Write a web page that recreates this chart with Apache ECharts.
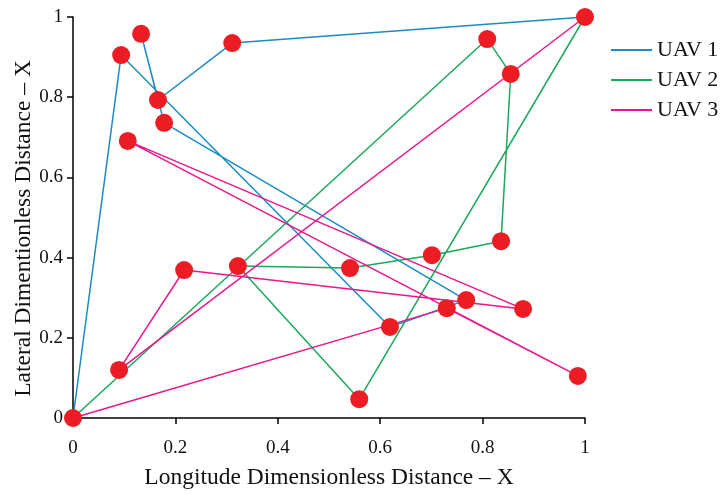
<!DOCTYPE html>
<html>
<head>
<meta charset="utf-8">
<script src="https://cdn.jsdelivr.net/npm/echarts@6/dist/echarts.min.js"></script>
<style>
  html, body { margin: 0; padding: 0; background: #fff; }
  #chart { width: 724px; height: 497px; }
</style>
</head>
<body>
<div id="chart"></div>
<script>
// routes, [x, y] in dimensionless units
const uav1Route = [[0, 0], [0.094, 0.905], [0.619, 0.227], [0.768, 0.294], [0.178, 0.736],
  [0.133, 0.958], [0.166, 0.793], [0.311, 0.935], [1, 1]]
const uav2Route = [[0, 0], [0.809, 0.945], [0.855, 0.858], [0.836, 0.441], [0.701, 0.406],
  [0.541, 0.374], [0.322, 0.379], [0.559, 0.047], [1, 1]]
const uav3Route = [[0, 0], [0.730, 0.274], [0.986, 0.105], [0.107, 0.691], [0.879, 0.272],
  [0.217, 0.369], [0.090, 0.120], [1, 1]]
const seriesNames = ['UAV 1', 'UAV 2', 'UAV 3']
const axisTicks = [0, 0.2, 0.4, 0.6, 0.8, 1]

const colors = ['#1b8cc2', '#1aa95c', '#ea168b']
const font = '"Liberation Serif", "DejaVu Serif", serif'

// all the nodes, once each
let nodes = []
const seen = {}
;[uav1Route, uav2Route, uav3Route].forEach(r => {
  r.forEach(p => {
    const k = p.join(',')
    if (!seen[k]) { seen[k] = true; nodes.push(p) }
  })
})

const routeSeries = [uav1Route, uav2Route, uav3Route].map((r, i) => ({
  name: seriesNames[i],
  type: 'line',
  data: r,
  symbol: 'none',
  lineStyle: { color: colors[i], width: 1.5 },
  itemStyle: { color: colors[i] },
  z: 2
}))

const axisCommon = {
  type: 'value',
  min: axisTicks[0],
  max: axisTicks[axisTicks.length - 1],
  interval: 0.2,
  splitLine: { show: false },
  axisLine: { show: true, onZero: false, lineStyle: { color: '#000', width: 1.5 } },
  axisTick: { show: true, inside: false, length: 6, lineStyle: { color: '#000', width: 1.5 } },
  axisLabel: { color: '#111', fontFamily: font, fontSize: 19 },
  nameLocation: 'middle',
  nameMoveOverlap: false,
  nameTextStyle: { color: '#111', fontFamily: font, fontSize: 23.5 }
}

let chart = echarts.init(document.getElementById('chart'))
chart.setOption({
  animation: false,
  grid: { left: 73, right: 139, top: 17, bottom: 79, containLabel: false, outerBoundsMode: 'none' },
  legend: {
    data: seriesNames.map((n, i) => ({ name: n, icon: 'rect', itemStyle: { color: colors[i] } })),
    orient: 'vertical',
    left: 606,
    top: 34,
    itemWidth: 41,
    itemHeight: 2,
    itemGap: 8,
    textStyle: { color: '#111', fontFamily: font, fontSize: 22, padding: [0, 0, 0, 0] }
  },
  xAxis: Object.assign({}, axisCommon, {
    name: 'Longitude Dimensionless Distance – X',
    nameGap: 48,
    axisLabel: Object.assign({}, axisCommon.axisLabel, { margin: 21 })
  }),
  yAxis: Object.assign({}, axisCommon, {
    name: 'Lateral Dimentionless Distance – X',
    nameGap: 37,
    nameTextStyle: Object.assign({}, axisCommon.nameTextStyle, { padding: [0, 22, 0, 0] }),
    axisLabel: Object.assign({}, axisCommon.axisLabel, { margin: 10 })
  }),
  series: routeSeries.concat([{
    name: 'nodes',
    type: 'scatter',
    data: nodes,
    symbolSize: 18,
    itemStyle: { color: '#ec1c24', opacity: 1 },
    z: 5
  }])
})
</script>
</body>
</html>
